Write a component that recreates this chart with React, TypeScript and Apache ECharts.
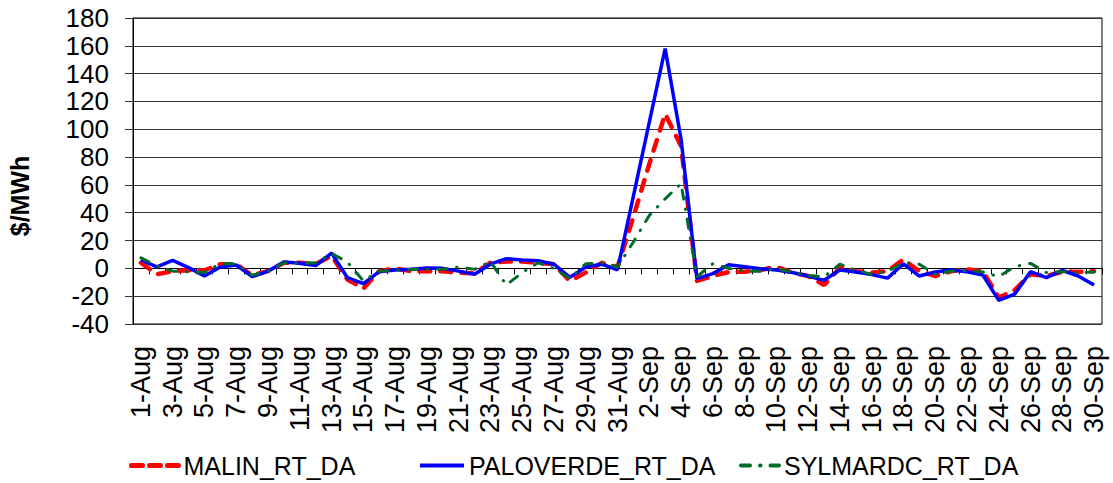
import React, { useEffect, useRef } from "react";
import * as echarts from "echarts";

const categories = [
  "1-Aug","2-Aug","3-Aug","4-Aug","5-Aug","6-Aug","7-Aug","8-Aug","9-Aug","10-Aug",
  "11-Aug","12-Aug","13-Aug","14-Aug","15-Aug","16-Aug","17-Aug","18-Aug","19-Aug","20-Aug",
  "21-Aug","22-Aug","23-Aug","24-Aug","25-Aug","26-Aug","27-Aug","28-Aug","29-Aug","30-Aug",
  "31-Aug","1-Sep","2-Sep","3-Sep","4-Sep","5-Sep","6-Sep","7-Sep","8-Sep","9-Sep",
  "10-Sep","11-Sep","12-Sep","13-Sep","14-Sep","15-Sep","16-Sep","17-Sep","18-Sep","19-Sep",
  "20-Sep","21-Sep","22-Sep","23-Sep","24-Sep","25-Sep","26-Sep","27-Sep","28-Sep","29-Sep",
  "30-Sep",
];

const malin = [
  4, -4.3, -2, -1.4, -1.4, 3, 3, -5, -2, 4,
  4, 3, 9, -8, -14.5, -2, 0, -2, -2, -2,
  -3, -3.6, 4, 5, 5, 4, 3, -9, -3, 4,
  1, 37, 75, 111, 88, -9, -5.5, -2.6, -2.4, -1.2,
  1, -3, -5.5, -12, 0.5, -2, -3, -2, 6.4, -2,
  -5.5, -2, -0.7, -2, -21, -15.7, -4.3, -5.5, -2.4, -2.6,
  -2,
];

const paloverde = [
  6, 1, 5.7, 0.5, -5.5, 1, 2.4, -6, -2, 4.5,
  3.6, 2, 11, -6.7, -11, -2.4, -1.2, -0.7, 0.2, 0,
  -2, -4.3, 3, 7, 6, 5.5, 3, -6.5, 1, 3,
  -1, 52, 105, 158, 93, -7.4, -3.8, 2.6, 1.2, -0.2,
  -1.2, -3, -5.5, -8.6, -1.2, -2.6, -4.5, -7, 3.3, -5.5,
  -2.6, -1.2, -2.4, -4.8, -23, -18.6, -2.4, -6.7, -1.4, -5.5,
  -12,
];

const sylmardc = [
  7.6, 1.7, -2, -2.6, -3, 3.3, 3.3, -5, -2, 4,
  3.6, 4, 10.7, 4.5, -9, -2, -1.2, -0.7, -0.7, -0.7,
  1, -0.7, 5, -12, -3, 4, 0, -7.4, 3.3, 4,
  1, 19, 38, 50, 61, -6, 3.3, 0, -2, -2,
  -0.2, -2.6, -5, -6, 3, -1.2, -4.3, -2, 4, 3,
  -4.3, -2, -1.4, -2.6, -6, 1.2, 3.6, -3, -2.4, -3,
  -2.6,
];

const yMin = -40;
const yMax = 180;
const yStep = 20;

const FONT = "'Liberation Sans', Arial, sans-serif";

export default function App() {
  const ref = useRef<HTMLDivElement>(null);

  useEffect(() => {
    if (!ref.current) return;
    const chart = echarts.init(ref.current, null, { renderer: "svg" });
    const legendBase = {
      top: 453,
      padding: 0,
      itemHeight: 14,
      itemStyle: { opacity: 0 },
      textStyle: { fontSize: 25, color: "#000", fontFamily: FONT },
    };
    chart.setOption({
      animation: false,
      backgroundColor: "#fff",
      textStyle: { fontFamily: FONT },
      grid: {
        left: 133,
        right: 11,
        top: 18,
        bottom: 159,
        containLabel: false,
        outerBoundsMode: "none",
        show: true,
        borderColor: "#000",
        borderWidth: 1,
        backgroundColor: "transparent",
      },
      legend: [
        {
          ...legendBase,
          data: ["MALIN_RT_DA"],
          left: 129,
          itemWidth: 47,
          lineStyle: { color: "#ff0000", width: 5, type: [11, 7], cap: "round" },
        },
        {
          ...legendBase,
          data: ["PALOVERDE_RT_DA"],
          left: 418,
          itemWidth: 44,
          lineStyle: { color: "#0000ff", width: 4, type: "solid" },
        },
        {
          ...legendBase,
          data: ["SYLMARDC_RT_DA"],
          left: 739,
          itemWidth: 38,
          lineStyle: { color: "#006b2a", width: 4, type: [9, 10, 0.5, 10], cap: "round" },
        },
      ],
      xAxis: [
        {
          type: "category",
          data: categories,
          position: "top",
          boundaryGap: true,
          axisLine: { show: true, onZero: true, lineStyle: { color: "#000", width: 1 } },
          axisTick: { show: true, inside: true, length: 6, interval: 0, lineStyle: { color: "#000" } },
          axisLabel: { show: false },
          splitLine: { show: false },
        },
        {
          type: "category",
          data: categories,
          position: "bottom",
          boundaryGap: true,
          axisLine: { show: false, onZero: false },
          axisTick: { show: false },
          axisLabel: {
            show: true,
            interval: 1,
            rotate: 90,
            margin: 22,
            fontSize: 27,
            color: "#000",
            fontFamily: FONT,
          },
          splitLine: { show: false },
        },
      ],
      yAxis: {
        type: "value",
        min: yMin,
        max: yMax,
        interval: yStep,
        axisLine: { show: true, lineStyle: { color: "#000", width: 1 } },
        axisTick: { show: true, length: 8, lineStyle: { color: "#333" } },
        axisLabel: { fontSize: 26, color: "#000", margin: 24, fontFamily: FONT },
        splitLine: { show: true, lineStyle: { color: "#333", width: 1 } },
      },
      graphic: [
        {
          type: "text",
          x: 20,
          y: 196,
          rotation: Math.PI / 2,
          style: {
            text: "$/MWh",
            fontSize: 25,
            fontWeight: "bold",
            fontFamily: FONT,
            fill: "#000",
            align: "center",
            verticalAlign: "middle",
          },
        },
      ],
      series: [
        {
          name: "MALIN_RT_DA",
          type: "line",
          xAxisIndex: 0,
          data: malin,
          showSymbol: false,
          symbol: "circle",
          color: "#ff0000",
          lineStyle: { color: "#ff0000", width: 4.5, type: [11, 10], cap: "round" },
        },
        {
          name: "PALOVERDE_RT_DA",
          type: "line",
          xAxisIndex: 0,
          data: paloverde,
          showSymbol: false,
          symbol: "circle",
          color: "#0000ff",
          lineStyle: { color: "#0000ff", width: 3.5, type: "solid" },
        },
        {
          name: "SYLMARDC_RT_DA",
          type: "line",
          xAxisIndex: 0,
          data: sylmardc,
          showSymbol: false,
          symbol: "circle",
          color: "#006b2a",
          lineStyle: { color: "#006b2a", width: 3, type: [9, 10, 0.5, 10], cap: "round" },
        },
      ],
    });
    return () => chart.dispose();
  }, []);

  return (
    <div
      ref={ref}
      style={{ position: "absolute", left: 0, top: 0, width: 1113, height: 483, background: "#fff" }}
    />
  );
}
